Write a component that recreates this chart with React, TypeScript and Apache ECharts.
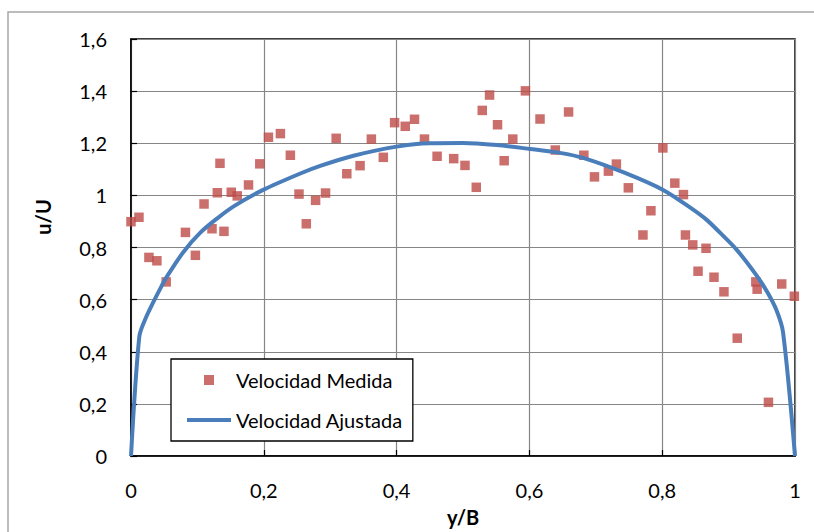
import React, { useEffect, useRef } from "react";
import * as echarts from "echarts";

const measuredX = [0, 0.012, 0.027, 0.039, 0.053, 0.082, 0.097, 0.110, 0.122, 0.130, 0.134, 0.140, 0.151, 0.160, 0.177, 0.194, 0.207, 0.225, 0.240, 0.253, 0.264, 0.278, 0.293, 0.309, 0.325, 0.345, 0.362, 0.380, 0.397, 0.413, 0.427, 0.442, 0.461, 0.486, 0.503, 0.520, 0.529, 0.540, 0.552, 0.562, 0.575, 0.594, 0.616, 0.639, 0.659, 0.682, 0.698, 0.719, 0.731, 0.749, 0.771, 0.783, 0.801, 0.819, 0.832, 0.835, 0.846, 0.854, 0.866, 0.878, 0.893, 0.913, 0.941, 0.943, 0.960, 0.980, 0.999];
const measuredY = [0.899, 0.916, 0.762, 0.749, 0.668, 0.858, 0.770, 0.967, 0.872, 1.010, 1.123, 0.862, 1.012, 0.998, 1.040, 1.121, 1.223, 1.237, 1.154, 1.005, 0.891, 0.981, 1.009, 1.219, 1.083, 1.114, 1.216, 1.146, 1.279, 1.265, 1.292, 1.216, 1.150, 1.141, 1.115, 1.031, 1.326, 1.385, 1.271, 1.133, 1.216, 1.401, 1.293, 1.174, 1.320, 1.154, 1.071, 1.093, 1.120, 1.029, 0.848, 0.941, 1.182, 1.047, 1.003, 0.848, 0.810, 0.709, 0.797, 0.686, 0.630, 0.452, 0.668, 0.640, 0.206, 0.660, 0.613];

const fitX = [0, 0.0125, 0.021, 0.034, 0.046, 0.054, 0.079, 0.104, 0.130, 0.154, 0.199, 0.255, 0.285, 0.335, 0.400, 0.450, 0.500, 0.551, 0.601, 0.646, 0.682, 0.743, 0.802, 0.845, 0.867, 0.887, 0.912, 0.942, 0.958, 0.972, 0.982, 1];
const fitY = [0, 0.458, 0.522, 0.592, 0.652, 0.688, 0.783, 0.856, 0.912, 0.957, 1.021, 1.084, 1.113, 1.152, 1.187, 1.200, 1.201, 1.193, 1.178, 1.163, 1.143, 1.087, 1.020, 0.948, 0.906, 0.857, 0.792, 0.693, 0.630, 0.560, 0.475, 0];

const seriesNames = ["Velocidad Medida", "Velocidad Ajustada"];
const xAxisTitle = "y/B";
const yAxisTitle = "u/U";

const FONT = "Lato, 'Liberation Sans', sans-serif";

const fmt = (v: number) => String(Math.round(v * 10) / 10).replace(".", ",");

const squareIcon = "path://M0,0h0.01v0.01h-0.01Z M17,0h10v10h-10Z M44,10h-0.01v-0.01h0.01Z";
const lineIcon = "path://M0,0h0.01v0.01h-0.01Z M0,3h44v4h-44Z M44,10h-0.01v-0.01h0.01Z";

export default function App() {
  const ref = useRef<HTMLDivElement>(null);
  useEffect(() => {
    if (!ref.current) return;
    const chart = echarts.init(ref.current, null, { renderer: "svg" });
    chart.setOption({
      animation: false,
      backgroundColor: "#ffffff",
      textStyle: { fontFamily: FONT },
      grid: {
        left: 131,
        top: 39,
        right: 19,
        bottom: 76,
        show: true,
        borderColor: "#000000",
        borderWidth: 1.5,
        backgroundColor: "transparent",
      },
      xAxis: {
        type: "value",
        min: 0,
        max: 1,
        interval: 0.2,
        axisLine: { show: true, lineStyle: { color: "#000000", width: 1.5 } },
        axisTick: { show: true, inside: true, length: 6, lineStyle: { color: "#000000", width: 1.2 } },
        splitLine: { show: true, lineStyle: { color: "#868686", width: 1.2 } },
        axisLabel: { formatter: fmt, color: "#000000", fontSize: 20, fontFamily: FONT, margin: 24 },
      },
      yAxis: {
        type: "value",
        min: 0,
        max: 1.6,
        interval: 0.2,
        axisLine: { show: true, lineStyle: { color: "#000000", width: 1.5 } },
        axisTick: { show: true, inside: true, length: 6, lineStyle: { color: "#000000", width: 1.2 } },
        splitLine: { show: true, lineStyle: { color: "#868686", width: 1.2 } },
        axisLabel: { formatter: fmt, color: "#000000", fontSize: 20, fontFamily: FONT, margin: 24 },
      },
      legend: {
        orient: "vertical",
        left: 171,
        top: 359,
        padding: [11, 10, 11, 16],
        itemGap: 20,
        itemWidth: 44,
        itemHeight: 10,
        backgroundColor: "#ffffff",
        borderColor: "#000000",
        borderWidth: 1.3,
        textStyle: { fontSize: 20, fontFamily: FONT, color: "#000000", lineHeight: 20 },
        data: [
          { name: seriesNames[0], icon: squareIcon },
          { name: seriesNames[1], icon: lineIcon },
        ],
      },
      graphic: [
        {
          type: "rect",
          shape: { x: 8, y: 12, width: 900, height: 700 },
          style: { fill: "none", stroke: "#a6a6a6", lineWidth: 1.5 },
          silent: true,
          z: -10,
        },
        {
          type: "text",
          x: 43,
          y: 217,
          rotation: Math.PI / 2,
          style: {
            text: yAxisTitle,
            fontSize: 20,
            fontWeight: "bold",
            fontFamily: FONT,
            fill: "#000000",
            align: "center",
            verticalAlign: "middle",
          },
        },
        {
          type: "text",
          x: 463,
          y: 517,
          style: {
            text: xAxisTitle,
            fontSize: 20,
            fontWeight: "bold",
            fontFamily: FONT,
            fill: "#000000",
            align: "center",
            verticalAlign: "middle",
          },
        },
      ],
      series: [
        {
          name: seriesNames[0],
          type: "scatter",
          symbol: "rect",
          symbolSize: 9.5,
          itemStyle: { color: "#be4b48" },
          data: measuredX.map((x, i) => [x, measuredY[i]]),
          z: 2,
        },
        {
          name: seriesNames[1],
          type: "line",
          symbol: "none",
          smooth: 0.3,
          lineStyle: { color: "#4a7ebb", width: 4 },
          itemStyle: { color: "#4a7ebb" },
          data: fitX.map((x, i) => [x, fitY[i]]),
          z: 3,
        },
      ],
    });
    return () => chart.dispose();
  }, []);
  return (
    <div
      ref={ref}
      style={{ position: "fixed", left: 0, top: 0, width: 814, height: 532 }}
    />
  );
}
